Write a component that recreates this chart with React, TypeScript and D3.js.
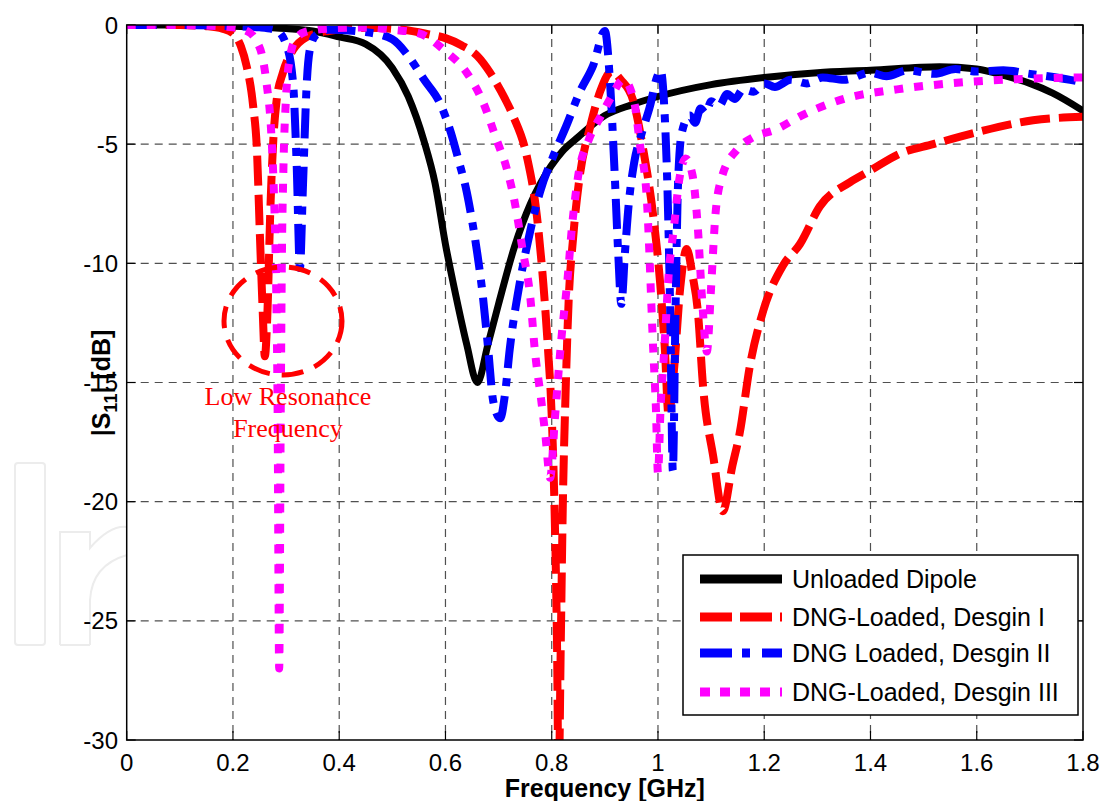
import React from "react";
import * as d3 from "d3";

// ---------- data ----------
const xTicks = [0, 0.2, 0.4, 0.6, 0.8, 1, 1.2, 1.4, 1.6, 1.8];
const yTicks = [0, -5, -10, -15, -20, -25, -30];

const unloadedF = [0, 0.1, 0.2, 0.3, 0.35, 0.4, 0.45, 0.5, 0.53, 0.56, 0.58, 0.6, 0.62, 0.64, 0.66, 0.68, 0.7, 0.73, 0.76, 0.78, 0.82, 0.85, 0.9, 0.95, 1.0, 1.1, 1.2, 1.3, 1.4, 1.53, 1.6, 1.656, 1.7, 1.743, 1.8];
const unloadedDb = [0, 0, -0.05, -0.15, -0.25, -0.5, -0.8, -1.8, -3.0, -4.9, -6.6, -9.2, -11.4, -13.4, -15.0, -13.4, -11.7, -9.3, -7.5, -6.6, -5.3, -4.7, -3.8, -3.35, -3.0, -2.5, -2.2, -2.0, -1.9, -1.75, -1.85, -2.15, -2.45, -2.86, -3.6];

const design1F = [0, 0.1, 0.15, 0.18, 0.2, 0.215, 0.226, 0.238, 0.245, 0.251, 0.256, 0.26, 0.265, 0.27, 0.276, 0.282, 0.294, 0.313, 0.339, 0.38, 0.45, 0.52, 0.57, 0.6, 0.63, 0.66, 0.684, 0.705, 0.727, 0.753, 0.772, 0.784, 0.793, 0.8, 0.805, 0.81, 0.813, 0.817, 0.821, 0.826, 0.832, 0.84, 0.853, 0.872, 0.891, 0.913, 0.93, 0.953, 0.972, 0.991, 1.004, 1.013, 1.02, 1.03, 1.042, 1.054, 1.065, 1.075, 1.085, 1.104, 1.122, 1.14, 1.154, 1.173, 1.198, 1.235, 1.267, 1.305, 1.361, 1.4, 1.455, 1.518, 1.6, 1.706, 1.8];
const design1Db = [0, 0, -0.05, -0.15, -0.35, -0.9, -1.75, -3.4, -5.2, -9.0, -12.0, -13.9, -12.0, -8.0, -4.8, -3.2, -2.0, -1.05, -0.5, -0.25, -0.12, -0.2, -0.4, -0.55, -0.85, -1.3, -2.0, -2.8, -3.8, -5.5, -8.0, -10.8, -13.6, -16.4, -20, -26, -32, -26, -20, -15.5, -11.5, -9.0, -6.3, -4.3, -2.8, -1.95, -2.3, -3.15, -5.2, -8.0, -10.8, -13.6, -16.4, -14.5, -11.0, -9.4, -10.5, -12.0, -15.2, -18.1, -20.4, -18.5, -17.1, -14.3, -12.0, -10.1, -9.2, -7.6, -6.6, -6.1, -5.4, -5.0, -4.5, -4.0, -3.85];

const design2F = [0, 0.1, 0.2, 0.25, 0.28, 0.3, 0.313, 0.32, 0.326, 0.332, 0.339, 0.345, 0.357, 0.38, 0.45, 0.5, 0.53, 0.56, 0.59, 0.61, 0.625, 0.64, 0.65, 0.66, 0.67, 0.68, 0.69, 0.703, 0.712, 0.721, 0.74, 0.759, 0.778, 0.803, 0.828, 0.853, 0.878, 0.9, 0.91, 0.918, 0.925, 0.931, 0.938, 0.945, 0.955, 0.97, 0.985, 0.998, 1.005, 1.012, 1.018, 1.023, 1.028, 1.033, 1.038, 1.045, 1.06, 1.07, 1.08, 1.09, 1.1, 1.115, 1.13, 1.145, 1.16, 1.18, 1.2, 1.22, 1.25, 1.28, 1.31, 1.35, 1.4, 1.43, 1.47, 1.52, 1.56, 1.6, 1.65, 1.7, 1.75, 1.8];
const design2Db = [0, 0, -0.05, -0.1, -0.2, -0.8, -2.4, -5.9, -10.2, -6.6, -2.4, -1.0, -0.4, -0.2, -0.3, -0.6, -1.3, -2.3, -3.3, -4.5, -5.7, -7.0, -8.2, -9.6, -11.3, -13.5, -15.8, -16.5, -15.5, -13.6, -10.8, -8.7, -7.0, -5.5, -4.2, -2.8, -1.7, -0.25, -2.5, -6.0, -9.5, -11.7, -9.5, -7.5, -5.8, -4.5, -3.4, -2.2, -1.9, -3.5, -7.0, -12.0, -18.7, -12.0, -6.5, -4.5, -3.8, -4.1, -3.5, -3.7, -3.2, -3.4, -2.9, -3.1, -2.7, -2.8, -2.45, -2.6, -2.3, -2.45, -2.2, -2.3, -2.0, -2.15, -1.9, -2.05, -1.85, -1.95, -1.9, -2.05, -2.2, -2.4];

const design3F = [0, 0.1, 0.2, 0.23, 0.245, 0.255, 0.263, 0.272, 0.277, 0.281, 0.284, 0.287, 0.29, 0.292, 0.295, 0.3, 0.307, 0.318, 0.335, 0.38, 0.45, 0.5, 0.55, 0.6, 0.64, 0.67, 0.696, 0.715, 0.73, 0.745, 0.76, 0.768, 0.78, 0.788, 0.797, 0.806, 0.818, 0.83, 0.838, 0.85, 0.87, 0.893, 0.91, 0.935, 0.955, 0.966, 0.979, 0.991, 0.996, 1.0, 1.005, 1.012, 1.02, 1.03, 1.04, 1.052, 1.065, 1.075, 1.083, 1.092, 1.1, 1.108, 1.12, 1.15, 1.18, 1.22, 1.27, 1.3, 1.35, 1.45, 1.55, 1.65, 1.8];
const design3Db = [0, 0, -0.1, -0.3, -0.7, -1.3, -2.4, -4.5, -7.0, -10.5, -16.0, -27.0, -16.0, -10.0, -6.0, -3.0, -1.4, -0.6, -0.3, -0.15, -0.1, -0.2, -0.35, -1.1, -2.0, -3.2, -4.8, -6.0, -7.4, -9.4, -11.5, -13.6, -15.7, -17.2, -19.0, -16.5, -13.2, -10.6, -8.5, -6.3, -4.8, -3.8, -3.1, -2.3, -3.2, -5.0, -7.3, -13.6, -16.0, -18.8, -16.0, -13.6, -10.5, -8.5, -6.5, -5.6, -6.3, -8.5, -11.5, -13.7, -11.0, -8.0, -6.4, -5.2, -4.7, -4.4, -3.8, -3.5, -3.1, -2.7, -2.45, -2.3, -2.2];

const seriesNames = ["Unloaded Dipole", "DNG-Loaded, Desgin I", "DNG Loaded, Desgin II", "DNG-Loaded, Desgin III"];

// ---------- layout ----------
const W = 1104, H = 801;
const L = 126.7, R = 1083, T = 25, B = 740;

const styles = [
  { color: "#000000", width: 7, dash: "none", cap: "round" as const },
  { color: "#ff0000", width: 8, dash: "30 9", cap: "butt" as const },
  { color: "#0000ff", width: 8, dash: "30 10 8 10", cap: "butt" as const },
  { color: "#ff00ff", width: 8, dash: "9 11", cap: "butt" as const },
];

export default function App() {
  const x = d3.scaleLinear().domain([0, 1.8]).range([L, R]);
  const y = d3.scaleLinear().domain([-30, 0]).range([B, T]);
  const line = d3
    .line<[number, number]>()
    .x((d) => x(d[0]))
    .y((d) => y(d[1]))
    .curve(d3.curveMonotoneX);

  const series = [
    d3.zip(unloadedF, unloadedDb) as [number, number][],
    d3.zip(design1F, design1Db) as [number, number][],
    d3.zip(design2F, design2Db) as [number, number][],
    d3.zip(design3F, design3Db) as [number, number][],
  ];

  const font = "Arial, 'Liberation Sans', Helvetica, sans-serif";
  const tickLen = 9;

  const legX = 683, legY = 555, legW = 395, legH = 160;
  const rowY = [579, 617, 653, 692];

  return (
    <svg
      width={W}
      height={H}
      style={{ position: "absolute", left: 0, top: 0, background: "#fff" }}
      fontFamily={font}
    >
      <rect x={0} y={0} width={W} height={H} fill="#fff" />
      {/* faint watermark */}
      <g fill="none" stroke="#ececec" strokeWidth={2}>
        <rect x={15} y={463} width={30} height={182} rx={3} />
        <path d="M60,645 L60,532 L90,532 L90,548 Q110,525 127,527" />
        <path d="M90,645 L90,600 Q92,565 127,555" />
        <path d="M60,645 L90,645" />
      </g>
      <defs>
        <clipPath id="plotclip">
          <rect x={L} y={T} width={R - L} height={B - T} />
        </clipPath>
      </defs>
      <rect x={L} y={T} width={R - L} height={B - T} fill="#fff" />
      {/* grid */}
      <g stroke="#505050" strokeWidth={1.2} strokeDasharray="8 6">
        {xTicks.slice(1, -1).map((t) => (
          <line key={"gx" + t} x1={x(t)} x2={x(t)} y1={T} y2={B} />
        ))}
        {yTicks.slice(1, -1).map((t) => (
          <line key={"gy" + t} x1={L} x2={R} y1={y(t)} y2={y(t)} />
        ))}
      </g>
      {/* ticks inward */}
      <g stroke="#000" strokeWidth={1.2}>
        {xTicks.map((t) => (
          <g key={"tx" + t}>
            <line x1={x(t)} x2={x(t)} y1={B} y2={B - tickLen} />
            <line x1={x(t)} x2={x(t)} y1={T} y2={T + tickLen} />
          </g>
        ))}
        {yTicks.map((t) => (
          <g key={"ty" + t}>
            <line x1={L} x2={L + tickLen} y1={y(t)} y2={y(t)} />
            <line x1={R} x2={R - tickLen} y1={y(t)} y2={y(t)} />
          </g>
        ))}
      </g>
      {/* curves */}
      <g clipPath="url(#plotclip)" fill="none">
        {series.map((s, i) => (
          <path
            key={"s" + i}
            d={line(s) || ""}
            stroke={styles[i].color}
            strokeWidth={styles[i].width}
            strokeDasharray={styles[i].dash}
            strokeLinecap={styles[i].cap}
            strokeLinejoin="round"
          />
        ))}
      </g>
      {/* frame */}
      <rect x={L} y={T} width={R - L} height={B - T} fill="none" stroke="#000" strokeWidth={1.5} />
      {/* tick labels */}
      <g fontSize={24} fill="#000">
        {xTicks.map((t) => (
          <text key={"lx" + t} x={x(t)} y={771} textAnchor="middle">
            {String(t)}
          </text>
        ))}
        {yTicks.map((t) => (
          <text key={"ly" + t} x={118} y={y(t) + 8.5} textAnchor="end">
            {String(t)}
          </text>
        ))}
      </g>
      {/* axis labels */}
      <text x={(L + R) / 2} y={797} textAnchor="middle" fontWeight="bold" fontSize={25}>
        Frequency [GHz]
      </text>
      <text transform="translate(110,383) rotate(-90)" textAnchor="middle" fontWeight="bold" fontSize={25}>
        |S
        <tspan fontSize={18} dy={7}>11</tspan>
        <tspan dy={-7}>| [dB]</tspan>
      </text>
      {/* annotation */}
      <ellipse cx={283} cy={321} rx={59} ry={54} fill="none" stroke="#ff0000" strokeWidth={5} strokeDasharray="22 12" />
      <g fill="#ff0000" fontFamily="'Times New Roman', 'Liberation Serif', serif" fontSize={26} textAnchor="middle">
        <text x={288} y={405}>Low Resonance</text>
        <text x={288} y={437}>Frequency</text>
      </g>
      {/* legend */}
      <rect x={legX} y={legY} width={legW} height={legH} fill="#fff" stroke="#000" strokeWidth={1.5} />
      {seriesNames.map((n, i) => (
        <g key={"lg" + i}>
          <line
            x1={700}
            x2={782}
            y1={rowY[i]}
            y2={rowY[i]}
            stroke={styles[i].color}
            strokeWidth={9}
            strokeDasharray={i === 1 ? "32 8" : i === 2 ? "32 10 8 12" : i === 3 ? "10 10" : "none"}
          />
          <text x={792} y={rowY[i] + 9} fontSize={25}>
            {n}
          </text>
        </g>
      ))}
    </svg>
  );
}
